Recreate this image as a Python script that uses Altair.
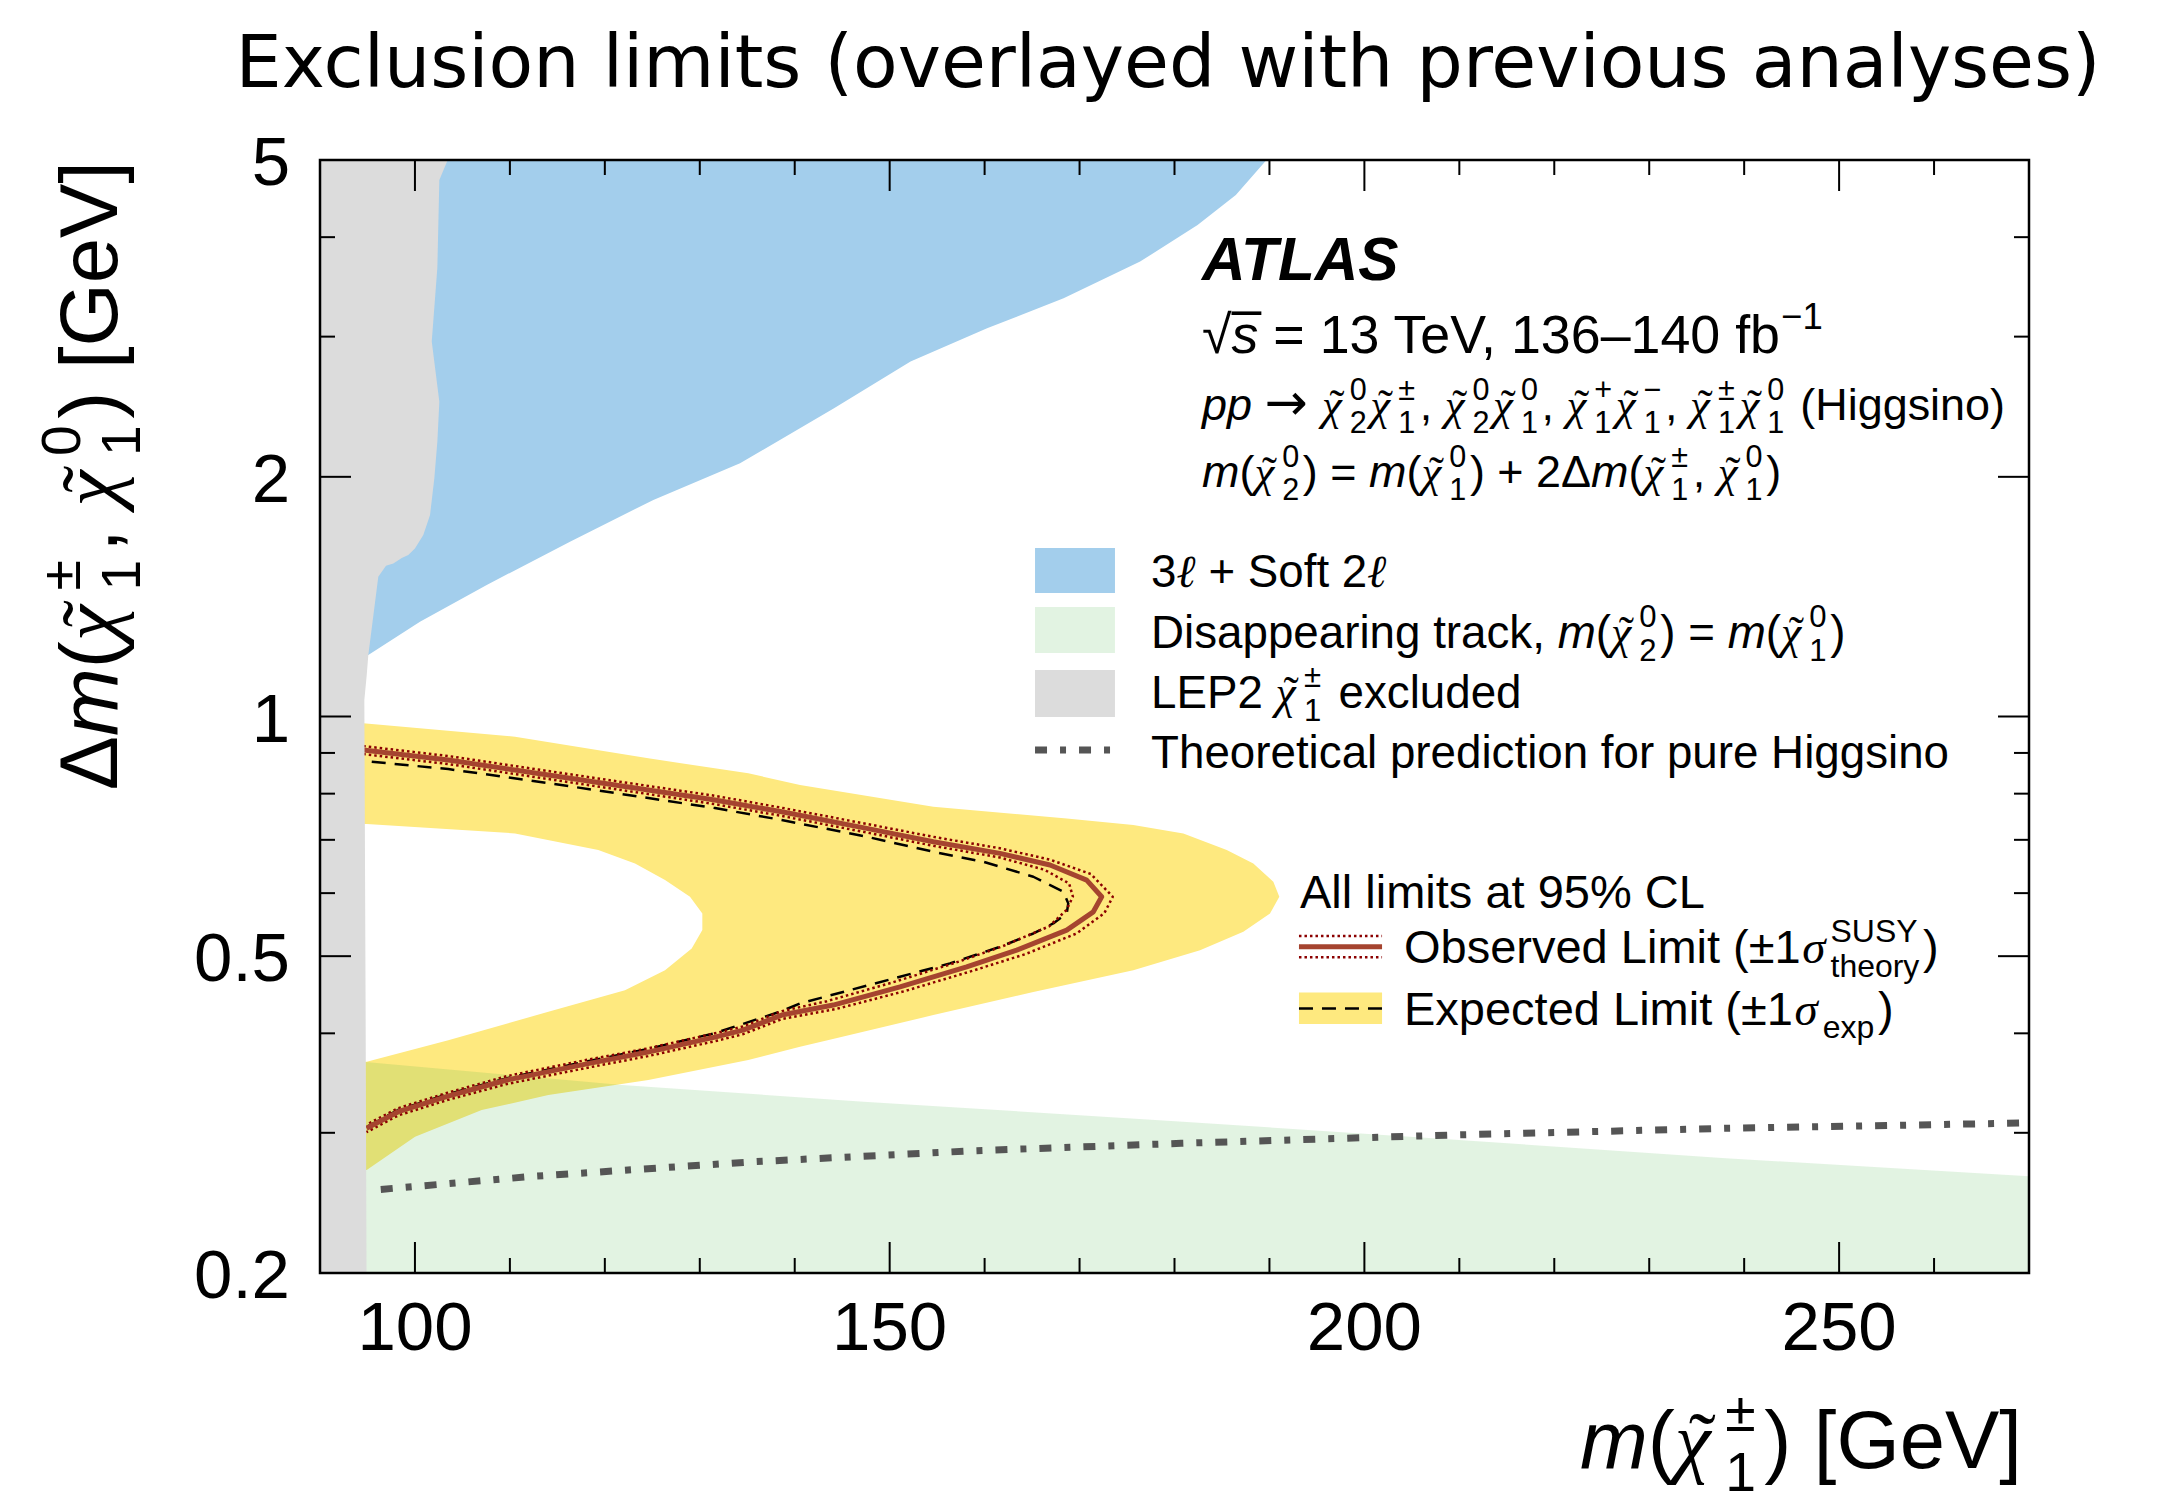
import altair as alt
import pandas as pd

# ---------------------------------------------------------------- axis ranges
M_RANGE = [90, 270]      # m(chargino) [GeV]
DM_RANGE = [0.2, 5]      # mass splitting [GeV], log scale

# ---------------------------------------------------------------- tick values
m_major = [100, 150, 200, 250]
m_minor = [110, 120, 130, 140, 160, 170, 180, 190, 210, 220, 230, 240, 260]
dm_labels = [0.2, 0.5, 1, 2, 5]
dm_major = [0.5, 1, 2]
dm_minor = [0.3, 0.4, 0.6, 0.7, 0.8, 0.9, 3, 4]

# ---------------------------------------------------------------- LEP2 chargino exclusion (right edge)
lep_dm = [0.2, 0.4404, 1.049, 1.127, 1.195, 1.498, 1.547, 1.557, 1.582, 1.595,
          1.626, 1.690, 1.791, 1.991, 2.214, 2.485, 2.957, 3.66, 4.72, 5.0]
lep_m = [94.9, 94.8, 94.67, 94.92, 95.09, 96.14, 96.95, 97.72, 98.61, 99.30,
         100.0, 100.88, 101.59, 102.04, 102.36, 102.57, 101.77, 102.36, 102.57, 103.45]

# ---------------------------------------------------------------- 3l + soft 2l exclusion (lower-right edge)
soft_dm = [1.195, 1.315, 1.463, 1.658, 1.871, 2.080, 2.438, 2.791, 3.073, 3.352,
           3.727, 4.143, 4.519, 5.0]
soft_m = [95.09, 100.53, 107.56, 116.33, 125.11, 134.24, 144.14, 152.20, 160.26, 168.32,
          176.38, 182.43, 186.46, 189.69]

# ---------------------------------------------------------------- disappearing-track exclusion (upper edge)
dt_m = [94.8, 121.81, 147.25, 180.06, 209.97, 238.05, 270.0]
dt_dm = [0.3681, 0.3445, 0.3282, 0.3103, 0.2938, 0.2788, 0.2646]

# ---------------------------------------------------------------- expected +-1 sigma band: outer edge and inner hole
band_dm = [0.2694, 0.2966, 0.3204, 0.3346, 0.3495, 0.3703, 0.3847, 0.3941, 0.4217, 0.4509,
           0.4802, 0.5088, 0.5365, 0.5658, 0.5937, 0.6200, 0.6539, 0.6795, 0.7131, 0.7305,
           0.7447, 0.7701, 0.8202, 0.8485, 0.8860, 0.9432, 0.9804]
band_m = [94.92, 100.01, 107.03, 114.05, 124.58, 135.11, 140.56, 144.24, 154.60, 165.13,
          175.66, 182.69, 187.25, 190.06, 191.04, 190.41, 188.30, 185.50, 180.93, 175.66,
          168.65, 154.60, 140.56, 135.11, 124.58, 110.54, 94.56]
hole_dm = [0.3684, 0.3922, 0.4257, 0.4532, 0.4802, 0.5113, 0.5392, 0.5658, 0.5937, 0.6230,
           0.6539, 0.6795, 0.7131, 0.7326]
hole_m = [94.92, 103.51, 114.05, 122.12, 126.34, 129.15, 130.27, 130.27, 128.97, 126.34,
          123.18, 119.31, 110.54, 94.92]

# ---------------------------------------------------------------- observed limit and its theory variations
obs_m = [94.56, 103.51, 114.05, 124.58, 131.60, 138.63, 147.58, 154.60, 161.62, 166.89,
         170.75, 172.33, 171.45, 168.65, 163.38, 158.11, 151.09, 144.06, 138.63, 134.55,
         131.60, 124.55, 118.36, 109.70, 103.48, 98.25, 94.90]
obs_dm = [0.9076, 0.8817, 0.8443, 0.8084, 0.7853, 0.7591, 0.7235, 0.6961, 0.6731, 0.6508,
          0.6230, 0.5937, 0.5684, 0.5392, 0.5088, 0.4849, 0.4575, 0.4341, 0.4217, 0.4037,
          0.3957, 0.3789, 0.3667, 0.3495, 0.3336, 0.3189, 0.3039]
obs_up_m = [94.56, 103.51, 114.05, 124.58, 131.60, 138.63, 147.58, 154.60, 161.62, 166.89,
            171.2, 173.5, 172.6, 169.7, 164.3, 158.9, 151.6, 144.3, 138.63, 134.55,
            131.60, 124.55, 118.36, 109.70, 103.48, 98.25, 94.90]
obs_up_dm = [0.918, 0.892, 0.854, 0.818, 0.795, 0.768, 0.733, 0.706, 0.683, 0.661,
             0.634, 0.5937, 0.566, 0.534, 0.503, 0.480, 0.452, 0.429, 0.4168, 0.399,
             0.391, 0.3745, 0.3625, 0.3455, 0.330, 0.3155, 0.3005]
obs_dn_m = [94.56, 103.51, 114.05, 124.58, 131.60, 138.63, 147.58, 154.60, 161.62, 166.3,
            168.9, 169.3, 168.6, 166.8, 161.8, 156.9, 150.2, 143.4, 138.63, 134.55,
            131.60, 124.55, 118.36, 109.70, 103.48, 98.25, 94.90]
obs_dn_dm = [0.897, 0.8715, 0.8345, 0.799, 0.776, 0.750, 0.715, 0.688, 0.665, 0.642,
             0.617, 0.5937, 0.571, 0.545, 0.514, 0.4905, 0.463, 0.439, 0.4265, 0.408,
             0.400, 0.383, 0.371, 0.3535, 0.337, 0.3222, 0.3072]

# ---------------------------------------------------------------- expected limit
exp_m = [95.45, 103.51, 114.05, 124.58, 131.60, 138.63, 147.58, 154.60, 159.86, 165.13,
         168.29, 168.81, 168.65, 167.23, 165.13, 161.62, 156.35, 151.09, 145.82, 140.56,
         138.63, 131.60, 124.55, 118.33, 109.70, 103.48, 98.22, 94.90]
exp_dm = [0.8773, 0.8590, 0.8249, 0.7899, 0.7673, 0.7413, 0.7063, 0.6762, 0.6570, 0.6291,
          0.6024, 0.5825, 0.5658, 0.5496, 0.5339, 0.5137, 0.4897, 0.4711, 0.4532, 0.4362,
          0.4266, 0.4002, 0.3823, 0.3692, 0.3514, 0.3355, 0.3204, 0.3050]

# ---------------------------------------------------------------- pure-Higgsino theory prediction
th_m = [96.40, 112.58, 135.69, 158.81, 180.69, 208.79, 238.05, 269.5]
th_dm = [0.2547, 0.2646, 0.2759, 0.2848, 0.2910, 0.2980, 0.3039, 0.3086]

# ---------------------------------------------------------------- styles
C_BLUE = "#A3CEEC"
C_GREEN = "#3AAF3A"
GREEN_ALPHA = 0.15
C_GREY = "#DCDCDC"
C_YELLOW = "#FEE97F"
C_OBS = "#A5442F"
C_OBS_DOT = "#8B0000"
C_THEORY = "#555555"
OBS_DOTS = [2.5, 3]
EXP_DASH = [14, 9]
TH_DASH = [12, 13, 6, 13]

W, H = 1709, 1113
TICK_MAJ, TICK_MIN = 31, 15
SANS = "Liberation Sans"
SERIF = "Liberation Serif"
LABEL_SIZE = 69

XS = alt.Scale(domain=M_RANGE, nice=False, zero=False)
YS = alt.Scale(type="log", domain=DM_RANGE, nice=False)
ONE = alt.Data(values=[{}])


def table(m, dm):
    return pd.DataFrame({"m": m, "dm": dm, "i": list(range(len(m)))})


def xf(name):
    return alt.X(f"{name}:Q", scale=XS, axis=None)


def yf(name):
    return alt.Y(f"{name}:Q", scale=YS, axis=None)


def xd(v):
    return alt.X(datum=v, type="quantitative", scale=XS, axis=None)


def yd(v):
    return alt.Y(datum=v, type="quantitative", scale=YS, axis=None)


def h_area(m, dm, color):
    """Region between the left plot edge and the boundary m(dm)."""
    df = table(m, dm)
    df["edge"] = M_RANGE[0]
    return alt.Chart(df).mark_area(orient="horizontal", color=color).encode(
        y=yf("dm"), x=xf("m"), x2=alt.X2("edge:Q"))


def path(m, dm, color, width, dash=None):
    props = dict(color=color, strokeWidth=width, strokeJoin="round", clip=True)
    if dash:
        props["strokeDash"] = dash
    return alt.Chart(table(m, dm)).mark_line(**props).encode(
        x=xf("m"), y=yf("dm"), order=alt.Order("i:Q"))


# ---------------------------------------------------------------- rich-text layout (ROOT TLatex style)
def _w(chars, width):
    return {c: width for c in chars}


SANS_W = {}
SANS_W.update(_w("0123456789abdeghnopqu_", 556))
SANS_W.update(_w("ijl", 222))
SANS_W.update(_w(" ,./:;!ftI[]", 278))
SANS_W.update(_w("ckszvxyJ", 500))
SANS_W.update(_w("r()-", 333))
SANS_W.update(_w("mM", 833))
SANS_W.update(_w("ABEKPSVXY", 667))
SANS_W.update(_w("CDHNRUw", 722))
SANS_W.update(_w("FTZ", 611))
SANS_W.update(_w("GOQ", 778))
SANS_W.update({"L": 556, "W": 944, "+": 584, "=": 584, "±": 584, "−": 584, "–": 556,
               "%": 889, "→": 1000, "Δ": 668, "√": 549})
BOLD_W = {"A": 722, "T": 611, "L": 611, "S": 667}
GREEK_W = {"χ": 550, "σ": 600, "ℓ": 420}

SCRIPT = 0.68
SUP_RISE = 0.45
SUB_DROP = 0.28
SCRIPT_TRAIL = 0.08
CHI_W = 0.62


def adv(text, widths, size):
    return sum(widths.get(c, 556) for c in text) * size / 1000.0


def layout(tokens, size):
    pieces = []
    x = 0.0

    def put(text, dx, dy, sz, font=SANS, style="normal", weight="normal"):
        body = text.lstrip(" ")
        lead = adv(text[: len(text) - len(body)], SANS_W, sz)
        body = body.rstrip(" ")
        if body:
            pieces.append(dict(text=body, dx=dx + lead, dy=dy, size=sz,
                               font=font, style=style, weight=weight))

    for tok in tokens:
        kind = tok[0]
        if kind in ("n", "i"):
            put(tok[1], x, 0, size, style="italic" if kind == "i" else "normal")
            x += adv(tok[1], SANS_W, size)
        elif kind == "b":
            put(tok[1], x, 0, size, style="italic", weight="bold")
            x += adv(tok[1], BOLD_W, size)
        elif kind == "g":
            put(tok[1], x, 0, size, font=SERIF, style="italic")
            x += adv(tok[1], GREEK_W, size)
        elif kind == "k":
            x += tok[1] * size
        elif kind == "root":
            put("√", x, 0, size)
            x += 0.549 * size
            put(tok[1], x, 0, size, style="italic")
            put("–", x, -0.49 * size, size)
            x += adv(tok[1], SANS_W, size)
        elif kind == "arrow":
            put("→", x, 0, size * 1.15, font="DejaVu Sans")
            x += 1.0 * size
        elif kind == "chi":
            put("χ", x, 0, size, font=SERIF, style="italic")
            put("˜", x + 0.17 * size, 0, size, font=SERIF)
            x += CHI_W * size
        else:
            sub = tok[1] if kind in ("sub", "ss") else ""
            sup = tok[1] if kind == "sup" else (tok[2] if kind == "ss" else "")
            s = size * SCRIPT
            if sub:
                put(sub, x, SUB_DROP * size, s)
            if sup:
                put(sup, x, -SUP_RISE * size, s)
            x += max(adv(sub, SANS_W, s), adv(sup, SANS_W, s)) + SCRIPT_TRAIL * size
    return pieces, x


def fit(tokens, target):
    return target / layout(tokens, 1.0)[1]


def rich(tokens, size, m, dm, align="left", angle=0):
    pieces, total = layout(tokens, size)
    shift = {"left": 0.0, "center": -total / 2, "right": -total}[align]
    out = []
    for p in pieces:
        props = dict(text=p["text"], dx=round(p["dx"] + shift, 2), dy=round(p["dy"], 2),
                     font=p["font"], fontSize=round(p["size"], 2), fontStyle=p["style"],
                     fontWeight=p["weight"], align="left", baseline="alphabetic", color="black")
        if angle:
            props["angle"] = angle
        out.append(alt.Chart(ONE).mark_text(**props).encode(x=xd(m), y=yd(dm)))
    return out


# ---------------------------------------------------------------- text content
ATLAS_T = [("b", "ATLAS")]
LUMI_T = [("root", "s"), ("n", " = 13 TeV, 136–140 fb"), ("k", -0.2), ("sup", "−1")]
PROC_T = [("i", "pp"), ("n", " "), ("arrow",), ("n", " "),
          ("chi",), ("ss", "2", "0"), ("chi",), ("ss", "1", "±"), ("n", ", "),
          ("chi",), ("ss", "2", "0"), ("chi",), ("ss", "1", "0"), ("n", ", "),
          ("chi",), ("ss", "1", "+"), ("chi",), ("ss", "1", "−"), ("n", ", "),
          ("chi",), ("ss", "1", "±"), ("chi",), ("ss", "1", "0"), ("n", " (Higgsino)")]
MASS_T = [("i", "m"), ("n", "("), ("chi",), ("ss", "2", "0"), ("n", ") = "),
          ("i", "m"), ("n", "("), ("chi",), ("ss", "1", "0"), ("n", ") + 2Δ"),
          ("i", "m"), ("n", "("), ("chi",), ("ss", "1", "±"), ("n", ", "),
          ("chi",), ("ss", "1", "0"), ("n", ")")]
LEG_T = [
    [("n", "3"), ("g", "ℓ"), ("n", " + Soft 2"), ("g", "ℓ")],
    [("n", "Disappearing track, "), ("i", "m"), ("n", "("), ("chi",), ("ss", "2", "0"),
     ("n", ") = "), ("i", "m"), ("n", "("), ("chi",), ("ss", "1", "0"), ("n", ")")],
    [("n", "LEP2 "), ("chi",), ("ss", "1", "±"), ("n", " excluded")],
    [("n", "Theoretical prediction for pure Higgsino")],
]
CL_T = [("n", "All limits at 95% CL")]
OBS_T = [("n", "Observed Limit (±1"), ("g", "σ"), ("ss", "theory", "SUSY"), ("n", ")")]
EXP_T = [("n", "Expected Limit (±1"), ("g", "σ"), ("sub", "exp"), ("n", ")")]
XT_T = [("i", "m"), ("n", "("), ("chi",), ("ss", "1", "±"), ("n", ") [GeV]")]
YT_T = [("n", "Δ"), ("i", "m"), ("n", "("), ("chi",), ("ss", "1", "±"), ("n", ", "),
        ("chi",), ("ss", "1", "0"), ("n", ") [GeV]")]
TITLE = "Exclusion limits (overlayed with previous analyses)"

S_ATLAS = fit(ATLAS_T, 201)
S_LUMI = fit(LUMI_T, 625)
S_PROC = fit(PROC_T, 803)
S_LEG = fit(LEG_T[3], 798)
S_LIM = 47
S_AXIS = fit(XT_T, 442)

# ---------------------------------------------------------------- annotation anchors (data coordinates)
INFO_M = 182.9
INFO_DM = [3.534, 2.861, 2.357, 1.942]
LEG_TEXT_M = 177.53
LEG_DM = [1.454, 1.219, 1.025, 0.8616]
LEG_BOX_M = (165.31, 173.73)
LEG_BOX_DM = [(1.429, 1.628), (1.2015, 1.3725), (0.9985, 1.1437)]
LEG_TH_M = (165.31, 173.21)
LEG_TH_DM = 0.9076
CL_M, CL_DM = 193.22, 0.5745
LIM_SYM_M = (193.11, 201.86)
LIM_TEXT_M = 204.17
OBS_SYM_DM, OBS_DOT_DM, OBS_TEXT_DM = 0.5137, (0.5300, 0.4983), 0.4897
EXP_BOX_DM, EXP_LINE_DM, EXP_TEXT_DM = (0.4108, 0.4501), 0.4299, 0.4097
TITLE_M, TITLE_DM = 179.32, 6.177
XT_M, XT_DM = 269.26, 0.1138
YT_M, YT_DM = 68.62, 4.986

layers = []

# ---------------------------------------------------------------- filled regions
layers.append(h_area(band_m, band_dm, C_YELLOW))
layers.append(h_area(hole_m, hole_dm, "white"))
layers.append(h_area(soft_m, soft_dm, C_BLUE))
dt = table(dt_m, dt_dm)
dt["floor"] = DM_RANGE[0]
layers.append(alt.Chart(dt).mark_area(color=C_GREEN, opacity=GREEN_ALPHA).encode(
    x=xf("m"), y=yf("dm"), y2=alt.Y2("floor:Q")))

# ---------------------------------------------------------------- curves
layers.append(path(th_m, th_dm, C_THEORY, 7, TH_DASH))
layers.append(path(exp_m, exp_dm, "black", 2.5, EXP_DASH))
layers.append(path(obs_up_m, obs_up_dm, C_OBS_DOT, 2.5, OBS_DOTS))
layers.append(path(obs_dn_m, obs_dn_dm, C_OBS_DOT, 2.5, OBS_DOTS))
layers.append(path(obs_m, obs_dm, C_OBS, 5))
layers.append(h_area(lep_m, lep_dm, C_GREY))

# ---------------------------------------------------------------- ticks (inward, all four sides)
for vals, length in ((m_major, TICK_MAJ), (m_minor, TICK_MIN)):
    df = pd.DataFrame({"m": vals})
    layers.append(alt.Chart(df).mark_rule(color="black", strokeWidth=2).encode(
        x=xf("m"), y=alt.value(H), y2=alt.value(H - length)))
    layers.append(alt.Chart(df).mark_rule(color="black", strokeWidth=2).encode(
        x=xf("m"), y=alt.value(0), y2=alt.value(length)))

for vals, length in ((dm_major, TICK_MAJ), (dm_minor, TICK_MIN)):
    df = pd.DataFrame({"dm": vals})
    layers.append(alt.Chart(df).mark_rule(color="black", strokeWidth=2).encode(
        y=yf("dm"), x=alt.value(0), x2=alt.value(length)))
    layers.append(alt.Chart(df).mark_rule(color="black", strokeWidth=2).encode(
        y=yf("dm"), x=alt.value(W), x2=alt.value(W - length)))

# tick labels
layers.append(alt.Chart(pd.DataFrame({"m": m_major})).mark_text(
    font=SANS, fontSize=LABEL_SIZE, align="center", baseline="top", color="black"
).encode(x=xf("m"), y=alt.value(H + 22), text=alt.Text("m:Q", format="d")))
layers.append(alt.Chart(pd.DataFrame({"dm": dm_labels})).mark_text(
    font=SANS, fontSize=LABEL_SIZE, align="right", baseline="middle", dy=4, color="black"
).encode(y=yf("dm"), x=alt.value(-30), text=alt.Text("dm:Q", format="~g")))

# frame
layers.append(alt.Chart(ONE).mark_rect(fill="white", fillOpacity=0, stroke="black", strokeWidth=2.5).encode(
    x=xd(M_RANGE[0]), x2=alt.X2(datum=M_RANGE[1]), y=yd(DM_RANGE[0]), y2=alt.Y2(datum=DM_RANGE[1])))

# ---------------------------------------------------------------- legend symbols
for (d0, d1), color, op in zip(LEG_BOX_DM, (C_BLUE, C_GREEN, C_GREY), (1.0, GREEN_ALPHA, 1.0)):
    layers.append(alt.Chart(ONE).mark_rect(color=color, opacity=op).encode(
        x=xd(LEG_BOX_M[0]), x2=alt.X2(datum=LEG_BOX_M[1]), y=yd(d0), y2=alt.Y2(datum=d1)))
layers.append(alt.Chart(ONE).mark_rule(color=C_THEORY, strokeWidth=7, strokeDash=TH_DASH).encode(
    x=xd(LEG_TH_M[0]), x2=alt.X2(datum=LEG_TH_M[1]), y=yd(LEG_TH_DM)))
layers.append(alt.Chart(ONE).mark_rule(color=C_OBS, strokeWidth=5).encode(
    x=xd(LIM_SYM_M[0]), x2=alt.X2(datum=LIM_SYM_M[1]), y=yd(OBS_SYM_DM)))
for d in OBS_DOT_DM:
    layers.append(alt.Chart(ONE).mark_rule(color=C_OBS_DOT, strokeWidth=2.5, strokeDash=OBS_DOTS).encode(
        x=xd(LIM_SYM_M[0]), x2=alt.X2(datum=LIM_SYM_M[1]), y=yd(d)))
layers.append(alt.Chart(ONE).mark_rect(color=C_YELLOW).encode(
    x=xd(LIM_SYM_M[0]), x2=alt.X2(datum=LIM_SYM_M[1]), y=yd(EXP_BOX_DM[0]), y2=alt.Y2(datum=EXP_BOX_DM[1])))
layers.append(alt.Chart(ONE).mark_rule(color="black", strokeWidth=2.5, strokeDash=EXP_DASH).encode(
    x=xd(LIM_SYM_M[0]), x2=alt.X2(datum=LIM_SYM_M[1]), y=yd(EXP_LINE_DM)))

# ---------------------------------------------------------------- texts
layers += rich(ATLAS_T, S_ATLAS, INFO_M, INFO_DM[0])
layers += rich(LUMI_T, S_LUMI, INFO_M, INFO_DM[1])
layers += rich(PROC_T, S_PROC, INFO_M, INFO_DM[2])
layers += rich(MASS_T, S_PROC, INFO_M, INFO_DM[3])
for toks, d in zip(LEG_T, LEG_DM):
    layers += rich(toks, S_LEG, LEG_TEXT_M, d)
layers += rich(CL_T, S_LIM, CL_M, CL_DM)
layers += rich(OBS_T, S_LIM, LIM_TEXT_M, OBS_TEXT_DM)
layers += rich(EXP_T, S_LIM, LIM_TEXT_M, EXP_TEXT_DM)
layers += rich(XT_T, S_AXIS, XT_M, XT_DM, align="right")
layers += rich(YT_T, S_AXIS, YT_M, YT_DM, align="right", angle=270)
layers.append(alt.Chart(ONE).mark_text(
    text=TITLE, font="DejaVu Sans", fontSize=73, align="center", baseline="alphabetic", color="black"
).encode(x=xd(TITLE_M), y=yd(TITLE_DM)))

chart = alt.layer(*layers).properties(
    width=W, height=H,
    padding={"left": 320, "top": 160, "right": 132, "bottom": 234},
    autosize=alt.AutoSizeParams(type="none"),
    background="white",
).configure_view(stroke=None)

chart.save("out.html", embed_options={"renderer": "svg", "actions": False})
